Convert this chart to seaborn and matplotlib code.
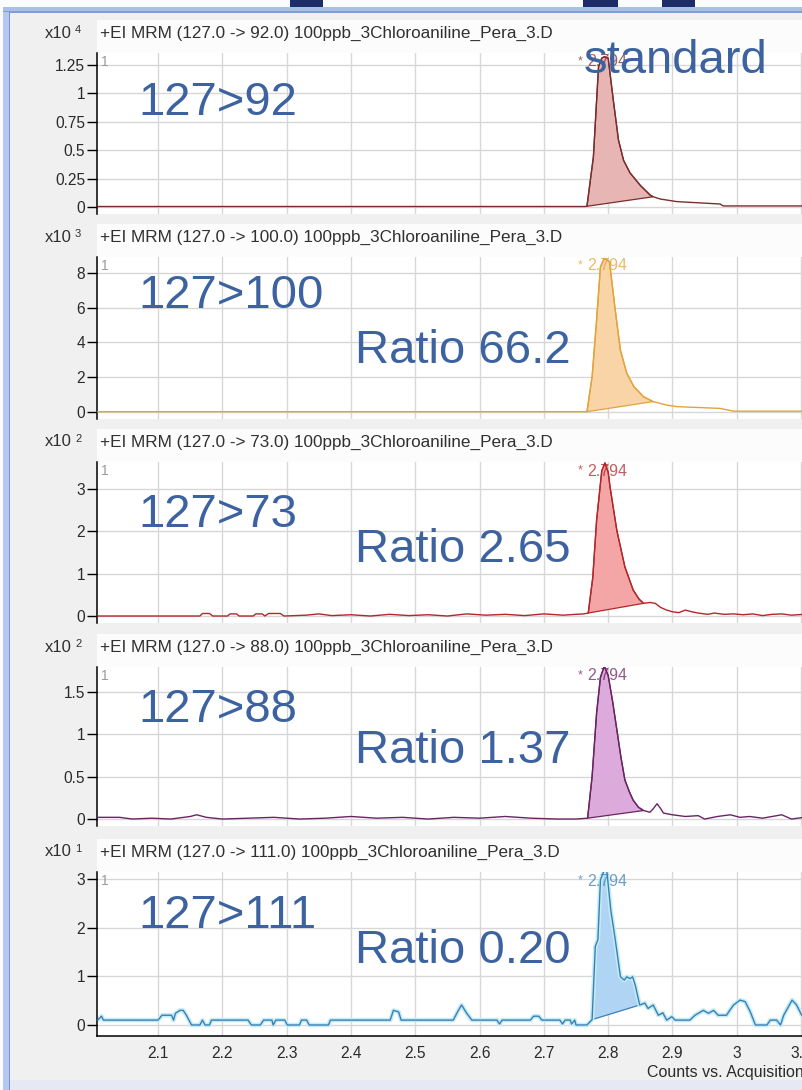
import matplotlib
matplotlib.use("Agg")
import matplotlib.pyplot as plt
from matplotlib.patches import Rectangle
from matplotlib.ticker import FormatStrFormatter
import pandas as pd
import seaborn as sns

# ---------------------------------------------------------------- data
apex_rt = 2.794
transitions = ["127>92", "127>100", "127>73", "127>88", "127>111"]
headers = [
    "+EI MRM (127.0 -> 92.0) 100ppb_3Chloroaniline_Pera_3.D",
    "+EI MRM (127.0 -> 100.0) 100ppb_3Chloroaniline_Pera_3.D",
    "+EI MRM (127.0 -> 73.0) 100ppb_3Chloroaniline_Pera_3.D",
    "+EI MRM (127.0 -> 88.0) 100ppb_3Chloroaniline_Pera_3.D",
    "+EI MRM (127.0 -> 111.0) 100ppb_3Chloroaniline_Pera_3.D",
]
exponents = ["4", "3", "2", "2", "1"]
ratio_labels = ["standard", "Ratio 66.2", "Ratio 2.65", "Ratio 1.37", "Ratio 0.20"]

# (retention time [min], counts in units of the panel multiplier)
trace_92 = [
    (2.005, 0.004), (2.764, 0.004), (2.767, 0.006), (2.777, 0.44), (2.785, 1.235),
    (2.790, 1.31), (2.794, 1.323), (2.800, 1.31), (2.808, 0.94), (2.816, 0.59),
    (2.824, 0.41), (2.834, 0.30), (2.850, 0.19), (2.865, 0.106), (2.870, 0.09),
    (2.881, 0.07), (2.907, 0.047), (2.974, 0.026), (2.979, 0.009), (3.105, 0.009),
]
trace_100 = [
    (2.005, 0.02), (2.767, 0.02), (2.775, 2.03), (2.782, 5.29), (2.788, 8.35),
    (2.794, 8.83), (2.802, 8.64), (2.811, 5.86), (2.819, 3.56), (2.829, 2.22),
    (2.840, 1.46), (2.855, 0.88), (2.870, 0.60), (2.891, 0.40), (2.907, 0.31),
    (2.974, 0.21), (2.995, 0.05), (3.105, 0.05),
]
trace_73 = [
    (2.005, 0.00), (2.165, 0.00), (2.169, 0.06), (2.180, 0.06), (2.185, 0.00),
    (2.208, 0.00), (2.212, 0.05), (2.222, 0.05), (2.226, 0.00), (2.248, 0.00),
    (2.252, 0.05), (2.262, 0.05), (2.266, 0.00), (2.272, 0.06), (2.290, 0.06),
    (2.296, 0.00), (2.330, 0.02), (2.350, 0.05), (2.370, 0.01), (2.400, 0.03),
    (2.430, 0.00), (2.460, 0.04), (2.490, 0.01), (2.520, 0.03), (2.550, 0.00),
    (2.580, 0.05), (2.610, 0.02), (2.640, 0.04), (2.670, 0.01), (2.700, 0.05),
    (2.730, 0.02), (2.750, 0.04), (2.762, 0.05), (2.769, 0.07), (2.776, 0.90),
    (2.782, 2.26), (2.790, 3.43), (2.795, 3.62), (2.800, 3.40), (2.803, 3.04),
    (2.8135, 2.02), (2.826, 1.16), (2.839, 0.61), (2.848, 0.40), (2.855, 0.30),
    (2.865, 0.32), (2.873, 0.30), (2.882, 0.20), (2.891, 0.14), (2.900, 0.10),
    (2.910, 0.08), (2.920, 0.14), (2.930, 0.10), (2.940, 0.07), (2.955, 0.04),
    (2.965, 0.07), (2.980, 0.04), (2.995, 0.05), (3.010, 0.03), (3.025, 0.05),
    (3.040, 0.01), (3.055, 0.04), (3.070, 0.05), (3.085, 0.02), (3.105, 0.04),
]
trace_88 = [
    (2.005, 0.02), (2.040, 0.02), (2.060, 0.00), (2.090, 0.01), (2.120, 0.00),
    (2.150, 0.03), (2.160, 0.05), (2.175, 0.02), (2.200, 0.00), (2.240, 0.01),
    (2.280, 0.02), (2.320, 0.00), (2.360, 0.01), (2.400, 0.03), (2.440, 0.01),
    (2.480, 0.02), (2.520, 0.00), (2.560, 0.02), (2.600, 0.01), (2.640, 0.03),
    (2.680, 0.01), (2.720, 0.00), (2.750, 0.00), (2.768, 0.01), (2.775, 0.50),
    (2.782, 1.25), (2.788, 1.67), (2.794, 1.80), (2.800, 1.69), (2.807, 1.38),
    (2.8135, 1.05), (2.820, 0.72), (2.826, 0.46), (2.833, 0.32), (2.839, 0.22),
    (2.847, 0.14), (2.855, 0.10), (2.865, 0.08), (2.870, 0.12), (2.876, 0.18),
    (2.881, 0.13), (2.886, 0.07), (2.900, 0.05), (2.920, 0.03), (2.940, 0.04),
    (2.950, 0.00), (2.970, 0.03), (2.990, 0.05), (3.005, 0.02), (3.020, 0.03),
    (3.040, 0.01), (3.055, 0.03), (3.070, 0.05), (3.085, 0.00), (3.105, 0.02),
]
trace_111 = [
    (2.006, 0.10), (2.012, 0.18), (2.015, 0.10), (2.100, 0.10), (2.106, 0.20),
    (2.121, 0.20), (2.124, 0.10), (2.127, 0.24), (2.134, 0.30), (2.139, 0.30),
    (2.144, 0.20), (2.152, 0.00), (2.165, 0.00), (2.169, 0.10), (2.173, 0.00),
    (2.180, 0.00), (2.183, 0.10), (2.240, 0.10), (2.245, 0.00), (2.259, 0.00),
    (2.264, 0.10), (2.277, 0.10), (2.279, 0.00), (2.283, 0.10), (2.297, 0.10),
    (2.301, 0.00), (2.320, 0.00), (2.323, 0.10), (2.331, 0.10), (2.335, 0.00),
    (2.365, 0.00), (2.368, 0.10), (2.461, 0.10), (2.466, 0.30), (2.474, 0.27),
    (2.478, 0.10), (2.559, 0.10), (2.567, 0.30), (2.572, 0.41), (2.580, 0.24),
    (2.588, 0.10), (2.627, 0.10), (2.631, 0.02), (2.635, 0.10), (2.679, 0.10),
    (2.684, 0.18), (2.692, 0.18), (2.697, 0.10), (2.725, 0.10), (2.729, 0.02),
    (2.733, 0.10), (2.741, 0.10), (2.743, 0.02), (2.748, 0.10), (2.750, 0.00),
    (2.767, 0.00), (2.775, 0.11), (2.780, 1.61), (2.784, 1.75), (2.788, 2.98),
    (2.794, 3.18), (2.798, 3.15), (2.804, 2.36), (2.811, 1.75), (2.819, 0.99),
    (2.825, 0.92), (2.829, 0.99), (2.834, 0.95), (2.838, 0.99), (2.842, 0.82),
    (2.849, 0.41), (2.857, 0.45), (2.862, 0.34), (2.870, 0.41), (2.878, 0.20),
    (2.885, 0.25), (2.891, 0.10), (2.899, 0.17), (2.904, 0.10), (2.927, 0.10),
    (2.935, 0.20), (2.948, 0.30), (2.956, 0.24), (2.964, 0.30), (2.971, 0.20),
    (2.984, 0.20), (2.989, 0.30), (2.995, 0.41), (3.005, 0.51), (3.013, 0.48),
    (3.021, 0.27), (3.029, 0.00), (3.047, 0.00), (3.052, 0.10), (3.062, 0.10),
    (3.068, 0.00), (3.073, 0.20), (3.086, 0.51), (3.093, 0.41), (3.101, 0.20),
]
traces = [trace_92, trace_100, trace_73, trace_88, trace_111]

# integration window (start, end) of the peak for each transition
peak_start = [2.767, 2.767, 2.769, 2.768, 2.775]
peak_end = [2.870, 2.870, 2.855, 2.855, 2.849]

y_ticks = [
    [0, 0.25, 0.5, 0.75, 1, 1.25],
    [0, 2, 4, 6, 8],
    [0, 1, 2, 3],
    [0, 0.5, 1, 1.5],
    [0, 1, 2, 3],
]
x_ticks = [2.1, 2.2, 2.3, 2.4, 2.5, 2.6, 2.7, 2.8, 2.9, 3.0, 3.1]

# ---------------------------------------------------------------- style
line_colors = ["#7b2d2d", "#e3a33a", "#b3262a", "#6b2463", "#3b7fb5"]
fill_colors = ["#e8b5b5", "#f8d4a6", "#f4a6a6", "#dcaadb", "#b0d4f3"]
label_blue = "#3d62a0"
y_limits = [(-0.062, 1.356), (-0.40, 8.91), (-0.165, 3.64), (-0.082, 1.79), (-0.226, 3.14)]
panel_top = [53, 257, 462, 667, 872]
panel_bottom = [214, 419, 623, 826, 1036]
transition_base = [115, 308, 527, 722, 928]
ratio_base = [73, 363, 562, 763, 963]

W, H = 803, 1090
sns.set_theme(style="white")
plt.rcParams["font.family"] = ["Liberation Sans", "DejaVu Sans"]

fig = plt.figure(figsize=(W / 100, H / 100), dpi=100, facecolor="#f0f0f0")


def fx(px):
    return px / W


def fy(py):
    return 1 - py / H


def box(x0, y0, x1, y1, color, z=-5):
    fig.add_artist(Rectangle((fx(x0), fy(y1)), fx(x1) - fx(x0), fy(y0) - fy(y1),
                             transform=fig.transFigure, facecolor=color,
                             edgecolor="none", zorder=z))


# window frame
box(0, 0, W, 7, "#fbfcfe")
box(0, 7, W, 12, "#a9c1ea")
box(0, 11, W, 12.5, "#7f9fd8")
for x0, x1 in [(290, 323), (583, 618), (662, 695)]:
    box(x0, 0, x1, 7, "#1d2b66")
box(0, 0, 3, H, "#fbfcfe")
box(3, 12, 9, H, "#b7c8f0")
box(9, 12, 10.5, H, "#7391d6")
box(10.5, 1080, W, H, "#e6e9f3")

for i in range(5):
    top, bot = panel_top[i], panel_bottom[i]
    box(97, top - 33, W, bot, "#fcfcfc")

    ax = fig.add_axes([fx(97), fy(bot), fx(W) - fx(97), (bot - top) / H])
    ax.set_facecolor("white")
    df = pd.DataFrame(traces[i], columns=["rt", "counts"])

    # integrated peak area closed by a straight baseline
    sel = df[(df.rt >= peak_start[i]) & (df.rt <= peak_end[i])]
    ax.fill(sel.rt, sel.counts, facecolor=fill_colors[i], edgecolor=line_colors[i],
            lw=0.9, zorder=2)

    if i == 4:
        ax.plot(df.rt, df.counts, color="#c4ecf5", lw=3.2, zorder=2.2,
                solid_joinstyle="round")
    sns.lineplot(data=df, x="rt", y="counts", ax=ax, color=line_colors[i], lw=1.0,
                 estimator=None, sort=False, legend=False, zorder=3)

    ax.set_xlim(2.005, 3.103)
    ax.set_ylim(*y_limits[i])
    ax.set_xticks(x_ticks)
    ax.set_yticks(y_ticks[i])
    ax.yaxis.set_major_formatter(FormatStrFormatter("%g"))
    ax.xaxis.set_major_formatter(FormatStrFormatter("%g"))
    ax.set_xlabel("")
    ax.set_ylabel("")
    ax.grid(True, color="#d7d7d7", lw=1.0)
    ax.set_axisbelow(True)
    for side in ["top", "right"]:
        ax.spines[side].set_visible(False)
    ax.spines["left"].set_color("black")
    ax.spines["left"].set_linewidth(1.1)
    ax.tick_params(axis="y", direction="out", length=7, width=1, color="black",
                   labelsize=11.2, labelcolor="#2b2b2b", pad=1.5, left=True)
    if i == 4:
        ax.spines["bottom"].set_color("black")
        ax.spines["bottom"].set_linewidth(1.1)
        ax.tick_params(axis="x", length=0, labelsize=11.2, labelcolor="#2b2b2b", pad=7)
    else:
        ax.spines["bottom"].set_visible(False)
        ax.tick_params(axis="x", length=0, labelbottom=False)

    # apex retention-time label
    ax.annotate(f"{apex_rt:.3f}", xy=(apex_rt, y_limits[i][1]), xytext=(-17, -9),
                textcoords="offset pixels", ha="left", va="center", fontsize=11.5,
                color=line_colors[i], alpha=0.75, zorder=2.5)
    ax.annotate("*", xy=(apex_rt, y_limits[i][1]), xytext=(-27, -8),
                textcoords="offset pixels", ha="left", va="center", fontsize=9,
                color=line_colors[i], alpha=0.75, zorder=2.5)

    # header row
    fig.text(fx(100), fy(top - 20), headers[i], ha="left", va="center",
             fontsize=12.3, color="#303030")
    fig.text(fx(72), fy(top - 20), "x10", ha="right", va="center",
             fontsize=12, color="#303030")
    fig.text(fx(75), fy(top - 23), exponents[i], ha="left", va="center",
             fontsize=8, color="#303030")
    fig.text(fx(101), fy(top + 9), "1", ha="left", va="center", fontsize=10,
             color="#9a9a9a")

    # transition and ion-ratio annotations
    fig.text(fx(138), fy(transition_base[i]), transitions[i], ha="left",
             va="baseline", fontsize=34, color=label_blue, zorder=10)
    if i == 0:
        fig.text(fx(584), fy(ratio_base[i]), ratio_labels[i], ha="left",
                 va="baseline", fontsize=34, color=label_blue, zorder=10)
    else:
        fig.text(fx(571), fy(ratio_base[i]), ratio_labels[i], ha="right",
                 va="baseline", fontsize=34, color=label_blue, zorder=10)

fig.text(fx(647), fy(1073), "Counts vs. Acquisition Time (min)", ha="left",
         va="center", fontsize=11.5, color="#2b2b2b")

fig.savefig("out.png", dpi=100, facecolor=fig.get_facecolor())
